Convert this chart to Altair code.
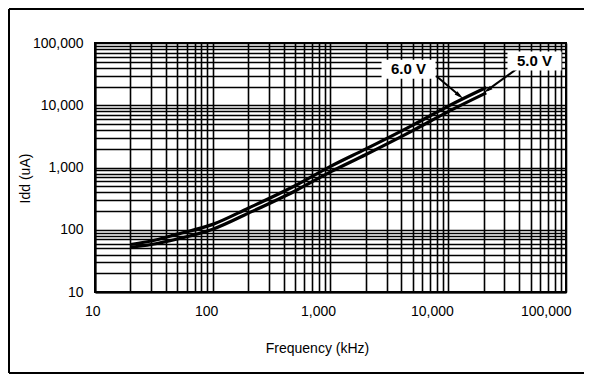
import altair as alt
import pandas as pd

# ---- data ----
freq_khz = [20, 30, 50, 100, 200, 500, 1000, 2000, 5000, 10000, 21000]
idd_5v = [52, 58, 71, 102, 184, 420, 850, 1620, 3920, 7900, 15800]
idd_6v = [58, 66, 85, 122, 222, 510, 1040, 1990, 4800, 9700, 19300]
series_names = ["5.0 V", "6.0 V"]

grid_values = [m * 10 ** k for k in range(1, 5) for m in range(1, 10)] + [100000]

label_text = ["6.0 V", "5.0 V"]
label_freq = [4600, 54000]
label_idd = [38000, 51500]
arrow_from_freq = [7900, 38000]
arrow_from_idd = [29500, 38000]
arrow_to_freq = [12500, 21500]
arrow_to_idd = [14200, 17500]
arrow_angle = [129, 235]

FONT = "Liberation Sans"

curves = pd.DataFrame({
    "freq": freq_khz * 2,
    "idd": idd_5v + idd_6v,
    "series": [series_names[0]] * len(freq_khz) + [series_names[1]] * len(freq_khz),
})
labels = pd.DataFrame({
    "text": label_text, "freq": label_freq, "idd": label_idd,
    "f0": arrow_from_freq, "i0": arrow_from_idd,
    "f1": arrow_to_freq, "i1": arrow_to_idd, "angle": arrow_angle,
})

label_expr = "indexof([10,100,1000,10000,100000], datum.value) >= 0 ? format(datum.value, ',') : ''"

xscale = alt.Scale(type="log", domain=[10, 100000], nice=False)
yscale = alt.Scale(type="log", domain=[10, 100000], nice=False)

x_axis = alt.Axis(
    values=grid_values, grid=True, gridColor="black", gridWidth=1.6, gridOpacity=1,
    ticks=False, domainColor="black", domainWidth=2, labelExpr=label_expr,
    labelFont=FONT, labelFontSize=14, labelColor="black", labelPadding=12,
    labelOverlap=False, labelFlush=False, labelAlign="right", labelOffset=5,
    title="Frequency (kHz)", titleFont=FONT, titleFontSize=14, titleFontWeight="normal",
    titleColor="black", titleX=222, titleY=56, titleBaseline="middle", titleAlign="center",
)
y_axis = alt.Axis(
    values=grid_values, grid=True, gridColor="black", gridWidth=1.6, gridOpacity=1,
    ticks=False, domainColor="black", domainWidth=2, labelExpr=label_expr,
    labelFont=FONT, labelFontSize=14, labelColor="black", labelPadding=12,
    labelOverlap=False, labelFlush=False,
    title="Idd (uA)", titleFont=FONT, titleFontSize=14, titleFontWeight="normal",
    titleColor="black", titleX=-70, titleY=135, titleBaseline="middle", titleAlign="center",
    titleAngle=270,
)

lines = alt.Chart(curves).mark_line(color="black", strokeWidth=3.2, interpolate="monotone").encode(
    x=alt.X("freq:Q", scale=xscale, axis=x_axis),
    y=alt.Y("idd:Q", scale=yscale, axis=y_axis),
    detail="series:N",
)

arrows = alt.Chart(labels).mark_rule(color="black", strokeWidth=2).encode(
    x=alt.X("f0:Q", scale=xscale), y=alt.Y("i0:Q", scale=yscale),
    x2="f1:Q", y2="i1:Q",
)
heads = alt.Chart(labels).mark_point(
    shape="M0,-1L0.45,1L-0.45,1Z", filled=True, color="black", opacity=1, size=90
).encode(
    x=alt.X("f1:Q", scale=xscale), y=alt.Y("i1:Q", scale=yscale),
    angle=alt.Angle("angle:Q", scale=None),
)
boxes = alt.Chart(labels).mark_rect(color="white", width=54, height=19).encode(
    x=alt.X("freq:Q", scale=xscale), y=alt.Y("idd:Q", scale=yscale),
)
texts = alt.Chart(labels).mark_text(
    font=FONT, fontSize=15, fontWeight="bold", color="black", baseline="middle", align="center"
).encode(
    x=alt.X("freq:Q", scale=xscale), y=alt.Y("idd:Q", scale=yscale), text="text:N",
)

one = pd.DataFrame({"a": [0]})
frame_left = alt.Chart(one).mark_rule(color="black", strokeWidth=2).encode(
    x=alt.value(-86), y=alt.value(-34), y2=alt.value(330))
frame_top = alt.Chart(one).mark_rule(color="black", strokeWidth=2).encode(
    x=alt.value(-86), x2=alt.value(489), y=alt.value(-34))
frame_bottom = alt.Chart(one).mark_rule(color="black", strokeWidth=2).encode(
    x=alt.value(-86), x2=alt.value(489), y=alt.value(330))

chart = alt.layer(
    lines, arrows, heads, boxes, texts, frame_left, frame_top, frame_bottom
).properties(
    width=471, height=249, autosize="none",
    padding={"left": 87, "top": 35, "right": 18, "bottom": 83},
    background="white",
).configure_view(stroke="black", strokeWidth=2, clip=False)

chart.save("out.html", embed_options={"renderer": "svg", "actions": False})
